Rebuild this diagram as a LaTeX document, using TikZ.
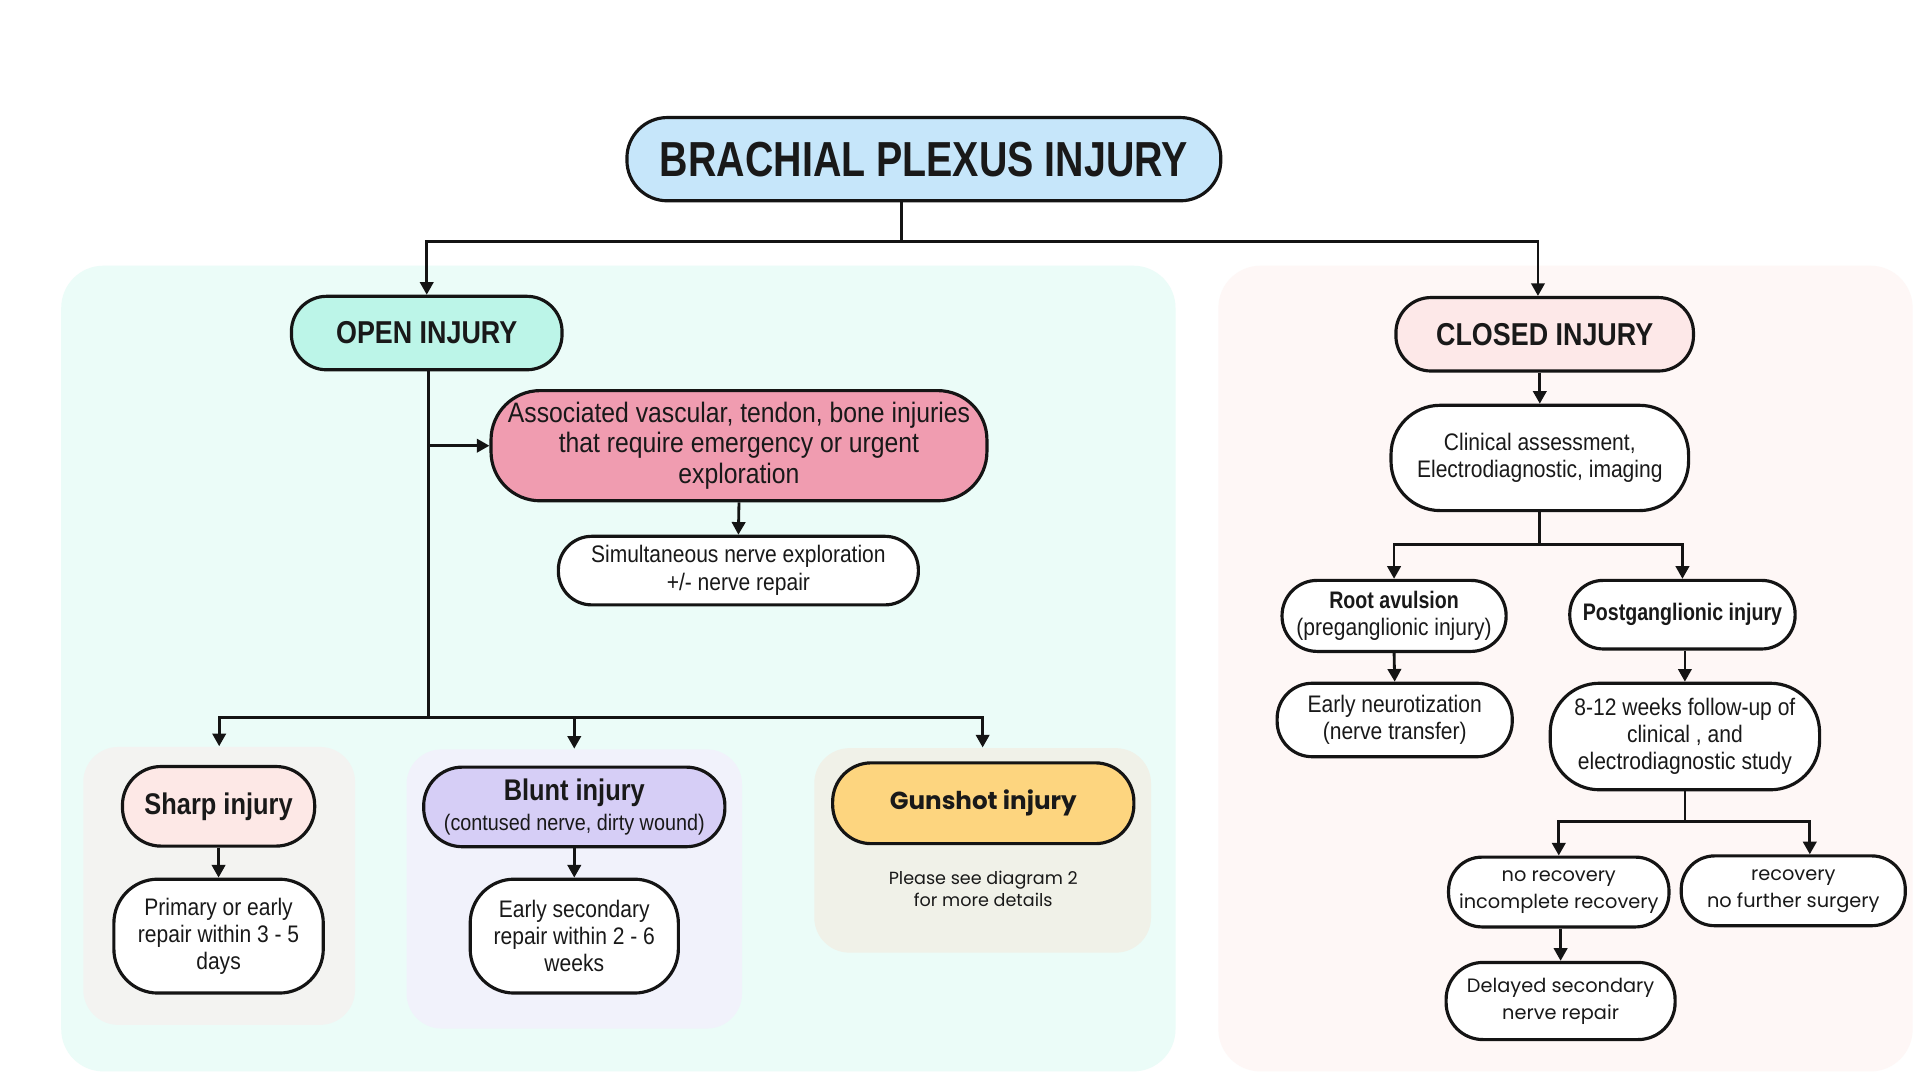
\documentclass[tikz,border=0pt]{standalone}
\usepackage{fontspec}
\setmainfont{Liberation Sans}
\newfontfamily\fReg{Liberation Sans}[FakeStretch=0.88]
\newfontfamily\fBold{Liberation Sans}[FakeStretch=0.82]
\newfontfamily\fHead{Liberation Sans}[FakeStretch=0.85]
\newfontfamily\fTitle{Liberation Sans}[FakeStretch=0.80]
\newfontfamily\fGeo{Poppins}
\usetikzlibrary{arrows.meta}
\def\px{0.3484pt}
\definecolor{cTitle}{HTML}{C6E6FA}
\definecolor{cOpen}{HTML}{BCF5E8}
\definecolor{cLeftP}{HTML}{EBFCF8}
\definecolor{cRightP}{HTML}{FEF7F6}
\definecolor{cClosed}{HTML}{FDE8E8}
\definecolor{cAssoc}{HTML}{F09CB0}
\definecolor{cSharpP}{HTML}{F3F3F1}
\definecolor{cSharp}{HTML}{FDE8E6}
\definecolor{cBluntP}{HTML}{F1F2FB}
\definecolor{cBlunt}{HTML}{D6CEF6}
\definecolor{cGunP}{HTML}{F0F1E8}
\definecolor{cGun}{HTML}{FDD57F}
\tikzset{
  box/.style={draw=black!92, line width=0.9pt, align=center, inner sep=0pt, text=black!90, fill=white},
  sz/.style 2 args={minimum width=#1*\px, minimum height=#2*\px},
  panel/.style={inner sep=0pt, draw=none},
  conn/.style={line width=0.8pt, draw=black!92},
  arr/.style={conn, -{Triangle[length=3.6pt,width=3.8pt]}},
  regtxt/.style={font=\fReg\fontsize{6.8}{7.7}\selectfont},
  headtxt/.style={font=\fHead\bfseries\fontsize{9}{10}\selectfont},
  geotxt/.style={font=\fGeo\fontsize{5.5}{7.7}\selectfont},
}
\begin{document}
\begin{tikzpicture}[x=\px, y=-\px]
\useasboundingbox[fill=white] (0,0) rectangle (1568,882);
% background panels
\node[panel, fill=cLeftP, sz={910}{658}, rounded corners=12pt] (leftP) at (505,546) {};
\node[panel, fill=cRightP, sz={567}{658}, rounded corners=12pt] (rightP) at (1278.5,546) {};
\node[panel, fill=cSharpP, sz={222}{227}, rounded corners=10pt] (sharpP) at (179,723.5) {};
\node[panel, fill=cBluntP, sz={274}{228}, rounded corners=10pt] (bluntP) at (469,726) {};
\node[panel, fill=cGunP, sz={275}{167}, rounded corners=10pt] (gunP) at (802.5,694.5) {};

% title
\node[box, fill=cTitle, sz={485}{68}, rounded corners=11.5pt, font=\fTitle\bfseries\fontsize{14}{16}\selectfont] (title) at (754.5,130) {BRACHIAL PLEXUS INJURY};

% open side
\node[box, fill=cOpen, sz={221}{60}, rounded corners=10pt, headtxt] (open) at (348.5,272) {OPEN INJURY};
\node[box, fill=cAssoc, sz={405}{90}, rounded corners=14pt, font=\fReg\fontsize{8}{8.7}\selectfont] (assoc) at (603.5,364) {Associated vascular, tendon, bone injuries\\that require emergency or urgent\\exploration};
\node[box, sz={294}{56}, rounded corners=9.5pt, font=\fReg\fontsize{6.8}{8}\selectfont] (simul) at (603,466) {Simultaneous nerve exploration\\+/- nerve repair};

\node[box, fill=cSharp, sz={157}{65}, rounded corners=11pt, font=\fHead\bfseries\fontsize{8.5}{10}\selectfont] (sharp) at (178.5,658.5) {Sharp injury};
\node[box, sz={171}{93}, rounded corners=12.5pt, regtxt] (primary) at (178.5,764.5) {Primary or early\\repair within 3 - 5\\days};
\node[box, fill=cBlunt, sz={246}{65}, rounded corners=11pt, font=\fReg\fontsize{6.4}{8.5}\selectfont] (blunt) at (469,659) {{\fHead\bfseries\fontsize{8.5}{10}\selectfont Blunt injury}\\(contused nerve, dirty wound)};
\node[box, sz={170}{93}, rounded corners=12.5pt, regtxt] (early2) at (469,764.5) {Early secondary\\repair within 2 - 6\\weeks};
\node[box, fill=cGun, sz={246}{66}, rounded corners=11pt, font=\fGeo\bfseries\fontsize{7}{8}\selectfont] (gun) at (803,656) {Gunshot injury};
\node[align=center, inner sep=0pt, text=black!90, font=\fGeo\fontsize{5}{6.3}\selectfont] (note) at (803,726) {Please see diagram 2\\for more details};

% closed side
\node[box, fill=cClosed, sz={243}{60}, rounded corners=10pt, headtxt] (closed) at (1261.5,273) {CLOSED INJURY};
\node[box, sz={243}{86}, rounded corners=14pt, regtxt] (clin) at (1257.5,374) {Clinical assessment,\\Electrodiagnostic, imaging};
\node[box, sz={183}{58}, rounded corners=10pt, regtxt] (root) at (1138.5,503) {{\fBold\bfseries Root avulsion}\\(preganglionic injury)};
\node[box, sz={192}{60}, rounded corners=10pt, regtxt] (neuro) at (1139,588) {Early neurotization\\(nerve transfer)};
\node[box, sz={184}{56}, rounded corners=9.5pt, font=\fBold\bfseries\fontsize{6.8}{7.7}\selectfont] (post) at (1374,502) {Postganglionic injury};
\node[box, sz={220}{87}, rounded corners=14pt, regtxt] (weeks) at (1376,601.5) {8-12 weeks follow-up of\\clinical , and\\electrodiagnostic study};
\node[box, sz={180}{57}, rounded corners=9.5pt, geotxt] (norec) at (1273,728.5) {no recovery\\incomplete recovery};
\node[box, sz={183}{57}, rounded corners=9.5pt, geotxt] (rec) at (1464.5,727.5) {recovery\\no further surgery};
\node[box, sz={187}{63}, rounded corners=10.5pt, geotxt] (delayed) at (1274.5,817.5) {Delayed secondary\\nerve repair};

% connectors: top
\coordinate (j0) at (736,197);
\coordinate (xc) at (1256,0);
\draw[conn] (title.south -| j0) -- (j0);
\draw[arr] (j0) -| (open.north);
\draw[arr] (j0) -| (closed.north -| xc);

% open side connectors
\coordinate (b2) at (350,586);
\coordinate (b1) at (350,364);
\draw[conn] (open.south -| b1) -- (b2);
\draw[arr] (b1) -- (assoc.west);
\draw[arr] (assoc.south) -- (simul.north);
\draw[arr] (b2) -| (sharpP.north);
\draw[arr] (b2) -| (bluntP.north);
\draw[arr] (b2) -| (gunP.north);
\draw[arr] (sharp.south) -- (primary.north);
\draw[arr] (blunt.south) -- (early2.north);

% closed side connectors
\draw[arr] (closed.south -| clin.north) -- (clin.north);
\coordinate (c1) at (1257.5,445);
\draw[conn] (clin.south) -- (c1);
\draw[arr] (c1) -| (root.north);
\draw[arr] (c1) -| (post.north);
\draw[arr] (root.south) -- (neuro.north);
\draw[arr] (post.south -| weeks.north) -- (weeks.north);
\coordinate (c2) at (1376,671);
\coordinate (xr) at (1478,0);
\draw[conn] (weeks.south) -- (c2);
\draw[arr] (c2) -| (norec.north);
\draw[arr] (c2) -| (rec.north -| xr);
\draw[arr] (norec.south -| delayed.north) -- (delayed.north);
\end{tikzpicture}
\end{document}
